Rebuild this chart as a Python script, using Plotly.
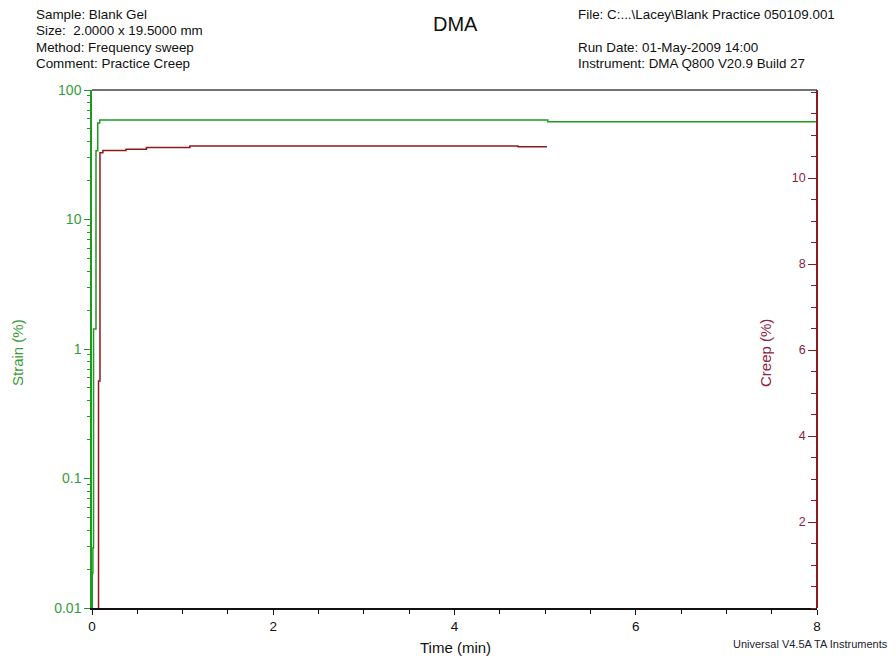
import plotly.graph_objects as go

# ---- data ----
strain_time = [0.000, 0.003, 0.010, 0.017, 0.044, 0.063, 0.085, 5.03, 8.00]
strain_pct = [0.010, 0.0186, 0.029, 1.43, 34.0, 55.6, 58.6, 56.9, 56.9]

creep_time = [0.072, 0.072, 0.088, 0.120, 0.375, 0.600, 1.080, 4.700, 5.020]
creep_pct = [0.00, 5.28, 10.59, 10.64, 10.67, 10.71, 10.75, 10.73, 10.73]

x_ticks = [0, 2, 4, 6, 8]
strain_ticks = [0.01, 0.1, 1, 10, 100]
strain_ticktext = ["0.01", "0.1", "1", "10", "100"]
strain_minor = [m * 10 ** e for e in range(-2, 2) for m in range(2, 10)]
creep_ticks = [2, 4, 6, 8, 10]

header_left = ["Sample: Blank Gel", "Size:  2.0000 x 19.5000 mm",
               "Method: Frequency sweep", "Comment: Practice Creep"]
header_right = ["File: C:...\\Lacey\\Blank Practice 050109.001", "",
                "Run Date: 01-May-2009 14:00", "Instrument: DMA Q800 V20.9 Build 27"]

GREEN = "#1E9A1E"
GREEN_TXT = "#3A9A3A"
RED = "#8E1B1B"
RED_TXT = "#8B2440"
FONT = "Liberation Sans, Arial, sans-serif"

fig = go.Figure()
fig.add_trace(go.Scatter(x=strain_time, y=strain_pct, mode="lines",
                         line=dict(color=GREEN, width=1.5, shape="hv"),
                         name="Strain", yaxis="y"))
fig.add_trace(go.Scatter(x=creep_time, y=creep_pct, mode="lines",
                         line=dict(color=RED, width=1.5, shape="hv"),
                         name="Creep", yaxis="y2"))

L, R, T, B = 92, 79, 90, 50
W, H = 896, 658
pw, ph = W - L - R, H - T - B


def px(x):
    return (x - L) / pw


def py(y):
    return (H - B - y) / ph


ann = []
for i, s in enumerate(header_left):
    ann.append(dict(text=s, x=px(34), y=py(15 + 16 * i), xanchor="left", yanchor="middle",
                    font=dict(size=13.4, color="#111111")))
for i, s in enumerate(header_right):
    if s:
        ann.append(dict(text=s, x=px(576), y=py(15 + 16 * i), xanchor="left", yanchor="middle",
                        font=dict(size=13.4, color="#111111")))
ann.append(dict(text="DMA", x=px(455), y=py(24), xanchor="center", yanchor="middle",
                font=dict(size=20, color="#111111")))
ann.append(dict(text="Strain (%)", x=px(17), y=py(353), xanchor="center", yanchor="middle",
                textangle=-90, font=dict(size=15, color=GREEN_TXT)))
ann.append(dict(text="Creep (%)", x=px(765), y=py(353), xanchor="center", yanchor="middle",
                textangle=-90, font=dict(size=15, color=RED_TXT)))
ann.append(dict(text="Time (min)", x=px(455), y=py(647), xanchor="center", yanchor="middle",
                font=dict(size=15, color="#111111")))
ann.append(dict(text="Universal V4.5A TA Instruments", x=px(890), y=py(644),
                xanchor="right", yanchor="middle", font=dict(size=11, color="#222233")))
for a in ann:
    a.update(xref="paper", yref="paper", showarrow=False)

fig.update_layout(
    width=W, height=H,
    margin=dict(l=L, r=R, t=T, b=B, pad=0),
    paper_bgcolor="white", plot_bgcolor="white",
    showlegend=False,
    font=dict(family=FONT, size=13, color="#111111"),
    annotations=ann,
    xaxis=dict(range=[0, 8], tickvals=x_ticks, showgrid=False, zeroline=False,
               showline=True, linecolor="#111111", linewidth=1.5, mirror=False,
               ticks="outside", ticklen=5, tickcolor="#111111", tickwidth=1.2,
               tickfont=dict(size=13.5, color="#111111"),
               minor=dict(dtick=0.5, ticks="outside", ticklen=4, tickcolor="#111111", showgrid=False)),
    yaxis=dict(type="log", range=[-2, 2], tickvals=strain_ticks, ticktext=strain_ticktext,
               showgrid=False, zeroline=False, showline=True, linecolor=GREEN, linewidth=1.5,
               ticks="outside", ticklen=6, tickcolor=GREEN, tickwidth=1.2,
               tickfont=dict(size=14, color=GREEN_TXT),
               minor=dict(tickvals=strain_minor, ticks="outside", ticklen=3.5,
                          tickcolor=GREEN, showgrid=False)),
    yaxis2=dict(overlaying="y", anchor="free", position=1, side="left",
                range=[0, 12.05], tickvals=creep_ticks,
                showgrid=False, zeroline=False, showline=True, linecolor=RED, linewidth=1.5,
                ticks="outside", ticklen=8, tickcolor=RED, tickwidth=1.2,
                tickfont=dict(size=12.5, color=RED_TXT),
                minor=dict(dtick=0.5, ticks="outside", ticklen=5, tickcolor=RED, showgrid=False)),
    shapes=[dict(type="line", xref="paper", yref="paper", x0=0, x1=1, y0=1, y1=1,
                 line=dict(color="#444444", width=1.5))],
)

fig.write_html("out.html")
